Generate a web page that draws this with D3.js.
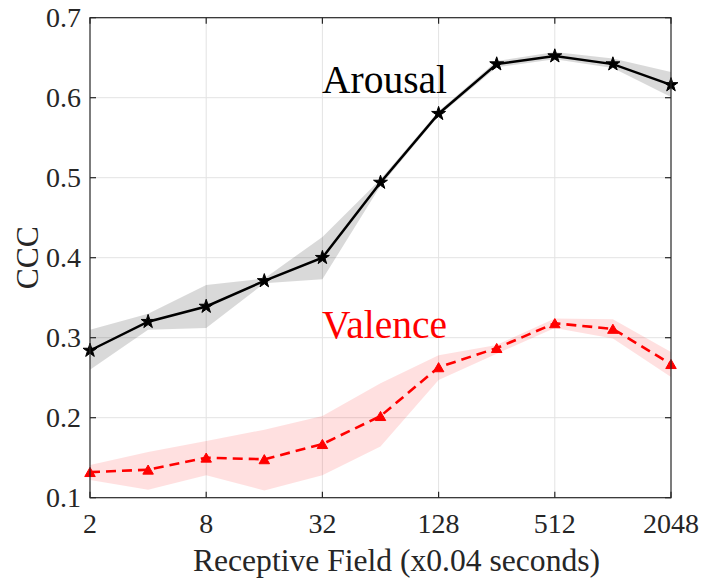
<!DOCTYPE html>
<html><head><meta charset="utf-8">
<script src="https://cdn.jsdelivr.net/npm/d3@7"></script>
<style>body{margin:0;background:#fff}svg{display:block}</style>
</head><body>
<svg id="c" width="701" height="579"></svg>
<script>
const fields = [2,4,8,16,32,64,128,256,512,1024,2048];
const arousal = [0.284,0.320,0.339,0.371,0.400,0.494,0.580,0.642,0.652,0.642,0.616];
const arousalUpper = [0.310,0.330,0.366,0.374,0.426,0.498,0.583,0.646,0.657,0.649,0.632];
const arousalLower = [0.260,0.310,0.312,0.368,0.373,0.490,0.577,0.638,0.648,0.637,0.601];
const valence = [0.132,0.135,0.150,0.148,0.167,0.202,0.263,0.287,0.318,0.311,0.267];
const valenceUpper = [0.141,0.157,0.171,0.185,0.202,0.243,0.278,0.291,0.324,0.323,0.282];
const valenceLower = [0.122,0.110,0.128,0.109,0.128,0.164,0.247,0.280,0.312,0.299,0.251];
const xTicks = [2,8,32,128,512,2048];
const yTicks = [0.1,0.2,0.3,0.4,0.5,0.6,0.7];

const FONT = 'Liberation Serif';
const svg = d3.select('#c');
const L=90,R=671,T=17.7,B=497.7;
const x = d3.scaleLog().base(2).domain([2,2048]).range([L,R]);
const y = d3.scaleLinear().domain([0.1,0.7]).range([B,T]);
const axisCol = '#262626';

// grid
const g = svg.append('g');
g.selectAll('.gx').data(xTicks.slice(1,-1)).enter().append('line')
  .attr('x1',d=>x(d)).attr('x2',d=>x(d)).attr('y1',T).attr('y2',B)
  .attr('stroke','#e3e3e3').attr('stroke-width',1);
g.selectAll('.gy').data(yTicks.slice(1,-1)).enter().append('line')
  .attr('y1',d=>y(d)).attr('y2',d=>y(d)).attr('x1',L).attr('x2',R)
  .attr('stroke','#e3e3e3').attr('stroke-width',1);

// bands
const idx = d3.range(fields.length);
const area = (up,lo)=>d3.area().x(i=>x(fields[i])).y0(i=>y(lo[i])).y1(i=>y(up[i]));
svg.append('path').attr('d',area(arousalUpper,arousalLower)(idx)).attr('fill','#000').attr('fill-opacity',0.15);
svg.append('path').attr('d',area(valenceUpper,valenceLower)(idx)).attr('fill','#ff0000').attr('fill-opacity',0.12);

// lines
const line = vals=>d3.line().x(i=>x(fields[i])).y(i=>y(vals[i]));
svg.append('path').attr('d',line(arousal)(idx)).attr('fill','none').attr('stroke','#000').attr('stroke-width',2.5);
svg.append('path').attr('d',line(valence)(idx)).attr('fill','none').attr('stroke','#ff0000').attr('stroke-width',2.6).attr('stroke-dasharray','10,6');

// markers
svg.selectAll('.st').data(idx).enter().append('path')
  .attr('d',d3.symbol().type(d3.symbolStar).size(60)())
  .attr('transform',i=>`translate(${x(fields[i])},${y(arousal[i])})`)
  .attr('fill','#000').attr('stroke','#000').attr('stroke-width',1).attr('stroke-linejoin','round');
svg.selectAll('.tr').data(idx).enter().append('path')
  .attr('d',d3.symbol().type(d3.symbolTriangle).size(48)())
  .attr('transform',i=>`translate(${x(fields[i])},${y(valence[i])+1.4})`)
  .attr('fill','#ff0000').attr('stroke','#ff0000').attr('stroke-width',1);

// axes box
const ax = svg.append('g').attr('stroke',axisCol).attr('stroke-width',1.2).attr('fill','none');
ax.append('rect').attr('x',L).attr('y',T).attr('width',R-L).attr('height',B-T);
const tl=6;
xTicks.forEach(t=>{
  ax.append('line').attr('x1',x(t)).attr('x2',x(t)).attr('y1',B).attr('y2',B-tl);
  ax.append('line').attr('x1',x(t)).attr('x2',x(t)).attr('y1',T).attr('y2',T+tl);
});
yTicks.forEach(t=>{
  ax.append('line').attr('y1',y(t)).attr('y2',y(t)).attr('x1',L).attr('x2',L+tl);
  ax.append('line').attr('y1',y(t)).attr('y2',y(t)).attr('x1',R).attr('x2',R-tl);
});

// tick labels
svg.selectAll('.xl').data(xTicks).enter().append('text')
  .attr('x',d=>x(d)).attr('y',533).attr('text-anchor','middle').attr('font-family',FONT)
  .attr('font-size',28).attr('fill',axisCol).text(d=>d);
svg.selectAll('.yl').data(yTicks).enter().append('text')
  .attr('x',81).attr('y',d=>y(d)+9).attr('text-anchor','end').attr('font-family',FONT)
  .attr('font-size',28).attr('fill',axisCol).text(d=>d.toFixed(1));

// axis labels
svg.append('text').attr('x',(L+R)/2+16).attr('y',571).attr('text-anchor','middle').attr('font-family',FONT)
  .attr('font-size',31.6).attr('fill',axisCol).text('Receptive Field (x0.04 seconds)');
svg.append('text').attr('transform',`translate(38,${(T+B)/2}) rotate(-90)`).attr('text-anchor','middle').attr('font-family',FONT)
  .attr('font-size',31.6).attr('fill',axisCol).text('CCC');

// series labels
svg.append('text').attr('x',322).attr('y',93).attr('font-size',39.5).attr('font-family',FONT).attr('fill','#000').text('Arousal');
svg.append('text').attr('x',322).attr('y',338).attr('font-size',39.5).attr('font-family',FONT).attr('fill','#ff0000').text('Valence');
</script>
</body></html>
